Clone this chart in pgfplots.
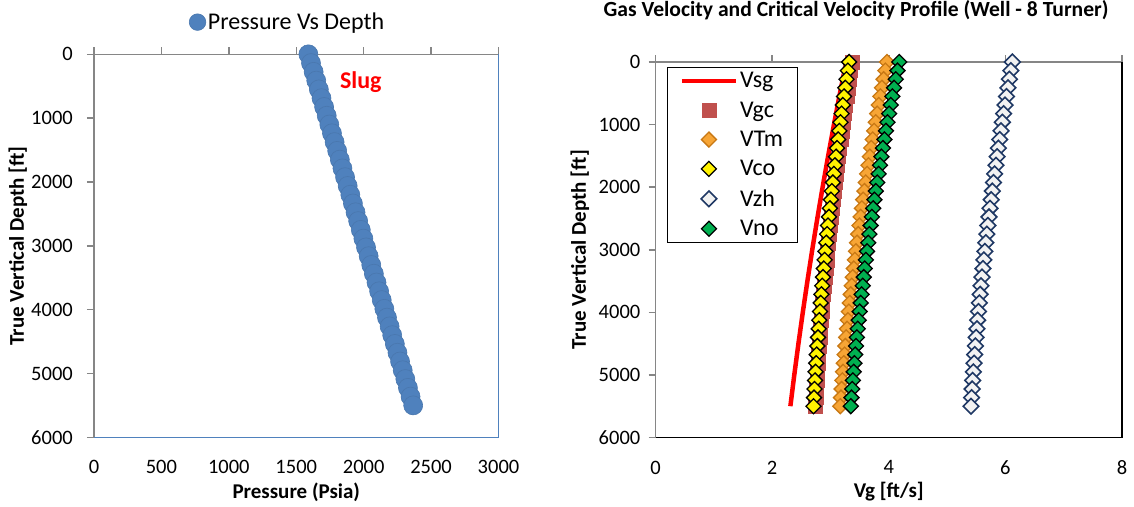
\documentclass[border=0pt]{standalone}
\usepackage{fontspec}
\setmainfont{Carlito}
\usepackage{pgfplots}
\usepackage{pgfplotstable}
\pgfplotsset{compat=1.18}

\definecolor{excelblue}{HTML}{4F81BD}
\definecolor{axisgray}{HTML}{868686}
\definecolor{gcred}{HTML}{C0504D}
\definecolor{tmorange}{HTML}{F7A535}
\definecolor{tmedge}{HTML}{C87814}
\definecolor{zhnavy}{HTML}{1F3864}
\definecolor{zhfill}{HTML}{F2F2F2}
\definecolor{nogreen}{HTML}{00B050}

\newcommand\tickfont{\fontsize{20.5pt}{24pt}\selectfont}
\newcommand\labfont{\fontsize{21pt}{25pt}\selectfont\bfseries}
\newcommand\legfont{\fontsize{24pt}{28pt}\selectfont}
\newcommand\titfont{\fontsize{21.6pt}{25pt}\selectfont\bfseries}

% depth [ft] vs flowing pressure [psia]
\pgfplotstableread{
d P
0 1590.0
137.5 1609.4
275 1628.9
412.5 1648.3
550 1667.7
687.5 1687.2
825 1706.6
962.5 1726.0
1100 1745.4
1237.5 1764.9
1375 1784.3
1512.5 1803.7
1650 1823.2
1787.5 1842.6
1925 1862.0
2062.5 1881.5
2200 1900.9
2337.5 1920.3
2475 1939.7
2612.5 1959.2
2750 1978.6
2887.5 1998.0
3025 2017.5
3162.5 2036.9
3300 2056.3
3437.5 2075.8
3575 2095.2
3712.5 2114.6
3850 2134.0
3987.5 2153.5
4125 2172.9
4262.5 2192.3
4400 2211.8
4537.5 2231.2
4675 2250.6
4812.5 2270.1
4950 2289.5
5087.5 2308.9
5225 2328.3
5362.5 2347.8
5500 2367.2
}\pressuretable

% superficial gas velocity [ft/s]
\pgfplotstableread{
d Vsg
0 3.270
500 3.163
1000 3.060
1500 2.961
2000 2.866
2500 2.775
3000 2.688
3500 2.605
4000 2.526
4500 2.451
5000 2.380
5500 2.313
}\vsgtable

% critical velocities [ft/s] by model
\pgfplotstableread{
d Vgc Vco VTm Vzh Vno
0 3.370 3.320 3.970 6.120 4.180
137.5 3.347 3.298 3.941 6.094 4.150
275 3.325 3.276 3.912 6.069 4.120
412.5 3.302 3.255 3.884 6.044 4.091
550 3.281 3.233 3.856 6.019 4.062
687.5 3.259 3.213 3.829 5.995 4.034
825 3.238 3.192 3.802 5.971 4.006
962.5 3.217 3.172 3.776 5.948 3.979
1100 3.197 3.153 3.750 5.925 3.952
1237.5 3.177 3.133 3.725 5.903 3.926
1375 3.157 3.114 3.700 5.880 3.900
1512.5 3.138 3.096 3.676 5.859 3.875
1650 3.119 3.077 3.652 5.838 3.850
1787.5 3.101 3.059 3.628 5.817 3.825
1925 3.083 3.042 3.605 5.796 3.802
2062.5 3.065 3.025 3.583 5.776 3.778
2200 3.048 3.008 3.561 5.757 3.755
2337.5 3.031 2.991 3.539 5.737 3.733
2475 3.014 2.975 3.518 5.719 3.711
2612.5 2.998 2.959 3.497 5.700 3.689
2750 2.982 2.944 3.477 5.682 3.668
2887.5 2.966 2.929 3.457 5.665 3.648
3025 2.951 2.914 3.438 5.648 3.628
3162.5 2.936 2.900 3.419 5.631 3.608
3300 2.922 2.886 3.401 5.615 3.589
3437.5 2.908 2.872 3.383 5.599 3.571
3575 2.894 2.859 3.365 5.583 3.553
3712.5 2.880 2.846 3.348 5.568 3.535
3850 2.867 2.833 3.332 5.554 3.518
3987.5 2.855 2.821 3.316 5.539 3.501
4125 2.842 2.809 3.300 5.525 3.485
4262.5 2.831 2.798 3.285 5.512 3.469
4400 2.819 2.787 3.270 5.499 3.454
4537.5 2.808 2.776 3.256 5.486 3.439
4675 2.797 2.765 3.243 5.474 3.425
4812.5 2.787 2.755 3.229 5.463 3.411
4950 2.777 2.745 3.217 5.451 3.398
5087.5 2.767 2.736 3.204 5.440 3.385
5225 2.758 2.727 3.192 5.430 3.373
5362.5 2.749 2.718 3.181 5.420 3.361
5500 2.740 2.710 3.170 5.410 3.350
}\veltable

\pgfplotsset{
  welldepth/.style={
    scale only axis, clip=false, y dir=reverse,
    ymin=0, ymax=6000, ytick={0,1000,...,6000},
    scaled ticks=false,
    /pgf/number format/1000 sep={},
    /pgf/number format/assume math mode=true,
    axis line style={draw=none},
    xtick pos=right, xticklabel pos=left, ytick pos=left,
    tick align=outside, major tick length=7pt,
    tick style={axisgray, line width=1.5pt},
    ticklabel style={font=\tickfont},
    xticklabel style={anchor=north, inner sep=0pt, yshift=-16pt},
    label style={font=\labfont},
  },
}

\begin{document}
\begin{tikzpicture}
\useasboundingbox (0,0) rectangle (1134pt,506pt);

% ---------------- pressure traverse ----------------
\begin{axis}[
  welldepth,
  at={(94pt,68.7pt)}, anchor=south west,
  width=404.5pt, height=383pt,
  xmin=0, xmax=3000, xtick={0,500,...,3000},
  yticklabel style={anchor=east, inner sep=0pt, xshift=-14pt},
  xlabel={Pressure (Psia)},
  ylabel={True Vertical Depth [ft]},
  xlabel style={at={(axis description cs:0.5,-0.1436)}, anchor=center},
  ylabel style={at={(axis description cs:-0.188,0.5)}, anchor=center},
  legend style={at={(axis description cs:0.479,1.084)}, anchor=center,
    draw=none, fill=none, font=\legfont, inner sep=0pt},
  legend image code/.code={\draw[#1, mark size=8.3pt] plot coordinates {(0pt,0pt)};},
]
\draw[axisgray, line width=1.5pt] (axis cs:0,6000) -- (axis cs:0,0) -- (axis cs:3000,0);
\draw[excelblue, line width=1.5pt] (axis cs:3000,0) -- (axis cs:3000,6000) -- (axis cs:0,6000);
\addplot[only marks, mark=*, mark size=9.5pt,
  mark options={fill=excelblue, draw=excelblue!92!black, line width=0.6pt}]
  table[x=P, y=d] {\pressuretable};
\addlegendentry{Pressure Vs Depth}
\node[text=red, font=\fontsize{24pt}{28pt}\selectfont\bfseries] at (axis cs:1979,434) {Slug};
\end{axis}

% ---------------- velocity profile ----------------
\begin{axis}[
  welldepth,
  at={(655.5pt,68.5pt)}, anchor=south west,
  width=466.5pt, height=375.5pt,
  xmin=0, xmax=8, xtick={0,2,...,8},
  yticklabel style={anchor=east, inner sep=0pt, xshift=-8pt},
  xlabel={Vg [ft/s]},
  ylabel={True Vertical Depth [ft]},
  xlabel style={at={(axis description cs:0.5,-0.145)}, anchor=center},
  ylabel style={at={(axis description cs:-0.162,0.5)}, anchor=center},
  title={Gas Velocity and Critical Velocity Profile (Well - 8 Turner)},
  title style={at={(axis description cs:0.43,1.1225)}, anchor=center, font=\titfont},
  legend style={at={(axis description cs:0.0247,0.987)}, anchor=north west,
    draw=black, line width=1.3pt, fill=white, font=\legfont,
    inner xsep=12pt, inner ysep=3pt, row sep=8.4pt},
  legend cell align=left,
  legend image code/.code={\draw[mark repeat=2, mark phase=2, #1]
    plot coordinates {(0pt,0pt) (27pt,0pt) (54pt,0pt)};},
]
\draw[axisgray, line width=1.5pt] (axis cs:0,6000) -- (axis cs:0,0) -- (axis cs:8,0);
\draw[black, line width=1.5pt] (axis cs:8,0) -- (axis cs:8,6000) -- (axis cs:0,6000);

\addplot[red, line width=4.5pt, no marks] table[x=Vsg, y=d] {\vsgtable};
\addlegendentry{Vsg}
\addplot[only marks, mark=square*, mark size=7pt,
  mark options={fill=gcred, draw=gcred, line width=0.4pt}]
  table[x=Vgc, y=d] {\veltable};
\addlegendentry{Vgc}
\addplot[only marks, mark=square*, mark size=5.3pt,
  mark options={rotate=45, fill=tmorange, draw=tmedge, line width=1.3pt}]
  table[x=VTm, y=d] {\veltable};
\addlegendentry{VTm}
\addplot[only marks, mark=square*, mark size=5.3pt,
  mark options={rotate=45, fill=yellow, draw=black, line width=1.3pt}]
  table[x=Vco, y=d] {\veltable};
\addlegendentry{Vco}
\addplot[only marks, mark=square*, mark size=5.5pt,
  mark options={rotate=45, fill=zhfill, draw=zhnavy, line width=1.6pt}]
  table[x=Vzh, y=d] {\veltable};
\addlegendentry{Vzh}
\addplot[only marks, mark=square*, mark size=5.3pt,
  mark options={rotate=45, fill=nogreen, draw=black, line width=1.3pt}]
  table[x=Vno, y=d] {\veltable};
\addlegendentry{Vno}
\end{axis}
\end{tikzpicture}
\end{document}
